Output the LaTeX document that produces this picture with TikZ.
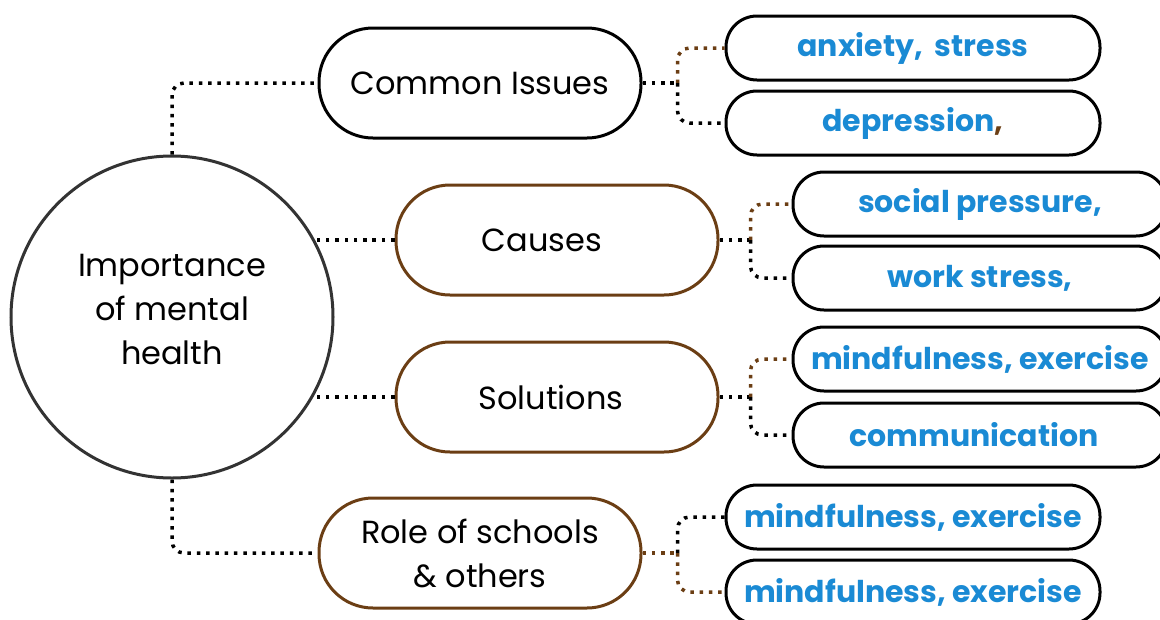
\documentclass[tikz,border=0pt]{standalone}
\usepackage{fontspec}
\setmainfont{Poppins}
\usetikzlibrary{positioning,calc}
\definecolor{mhbrown}{RGB}{107,62,20}
\definecolor{mhblue}{RGB}{26,138,212}
\definecolor{mhgray}{RGB}{51,51,51}
\tikzset{
	every node/.style = { align = center },
	hub/.style = { circle, draw=mhgray, line width=3pt, minimum size=322pt, inner sep=0pt, font=\fontsize{32}{44}\selectfont },
	topic/.style = { rectangle, rounded corners=54pt, draw=#1, line width=3pt, minimum width=322pt, minimum height=110pt, font=\fontsize{32}{44}\selectfont },
	leaf/.style = { rectangle, rounded corners=31pt, draw=black, line width=3pt, minimum width=374pt, minimum height=64pt, inner sep=0pt, text=mhblue, font=\fontsize{30}{34}\selectfont\bfseries },
	link/.style = { draw=#1, line width=3.5pt, dash pattern=on 3.5pt off 5.8pt, rounded corners=12pt },
	link/.default = black,
}
\begin{document}
\begin{tikzpicture}[x=1pt,y=-1pt]
\useasboundingbox (0,0) rectangle (1160,619);
% hub and topics
\node (hub) [hub]          at (172,317) {Importance\\of mental\\health\\[-28pt]\mbox{}};
\node (iss) [topic=black]  at (480,83)  {Common Issues};
\node (cau) [topic=mhbrown] at (557,240) {Causes\hspace{30pt}};
\node (sol) [topic=mhbrown] at (557,397) {Solutions\hspace{12pt}};
\node (rol) [topic=mhbrown] at (480,553) {Role of schools\\\& others};

% leaves
\node (anx) [leaf] at (913,48)  {anxiety,\hspace{12pt}stress};
\node (dep) [leaf] at (913,123) {depression\textcolor{mhbrown}{,}};
\node (soc) [leaf] at (980,204) {social pressure,};
\node (wrk) [leaf] at (980,278) {work stress,};
\node (mnd) [leaf] at (980,359) {mindfulness, exercise};
\node (com) [leaf] at (980,435) {communication\hspace{12pt}};
\node (sch) [leaf] at (913,517) {mindfulness, exercise};
\node (oth) [leaf] at (913,592) {mindfulness, exercise};

% hub to topics
\draw[link] (hub.north) |- (iss.west);
\draw[link] (hub.south) |- (rol.west);
\draw[link] (cau.west) -- (cau.west -| hub.28.6);
\draw[link] (sol.west) -- (sol.west -| hub.-29.8);

% topics to leaves
\draw[link] (iss.east) -- ++(35,0) coordinate (iss-x);
\draw[link=mhbrown] (iss-x) |- (anx.west);
\draw[link] (iss-x) |- (dep.west);

\draw[link] (cau.east) -- ++(31,0) coordinate (cau-x);
\draw[link=mhbrown] (cau-x) |- (soc.west);
\draw[link] (cau-x) |- (wrk.west);

\draw[link] (sol.east) -- ++(31,0) coordinate (sol-x);
\draw[link=mhbrown] (sol-x) |- (mnd.west);
\draw[link] (sol-x) |- (com.west);

\draw[link=mhbrown] (rol.east) -- ++(35,0) coordinate (rol-x);
\draw[link] (rol-x) |- (sch.west);
\draw[link=mhbrown] (rol-x) |- (oth.west);
\end{tikzpicture}
\end{document}
